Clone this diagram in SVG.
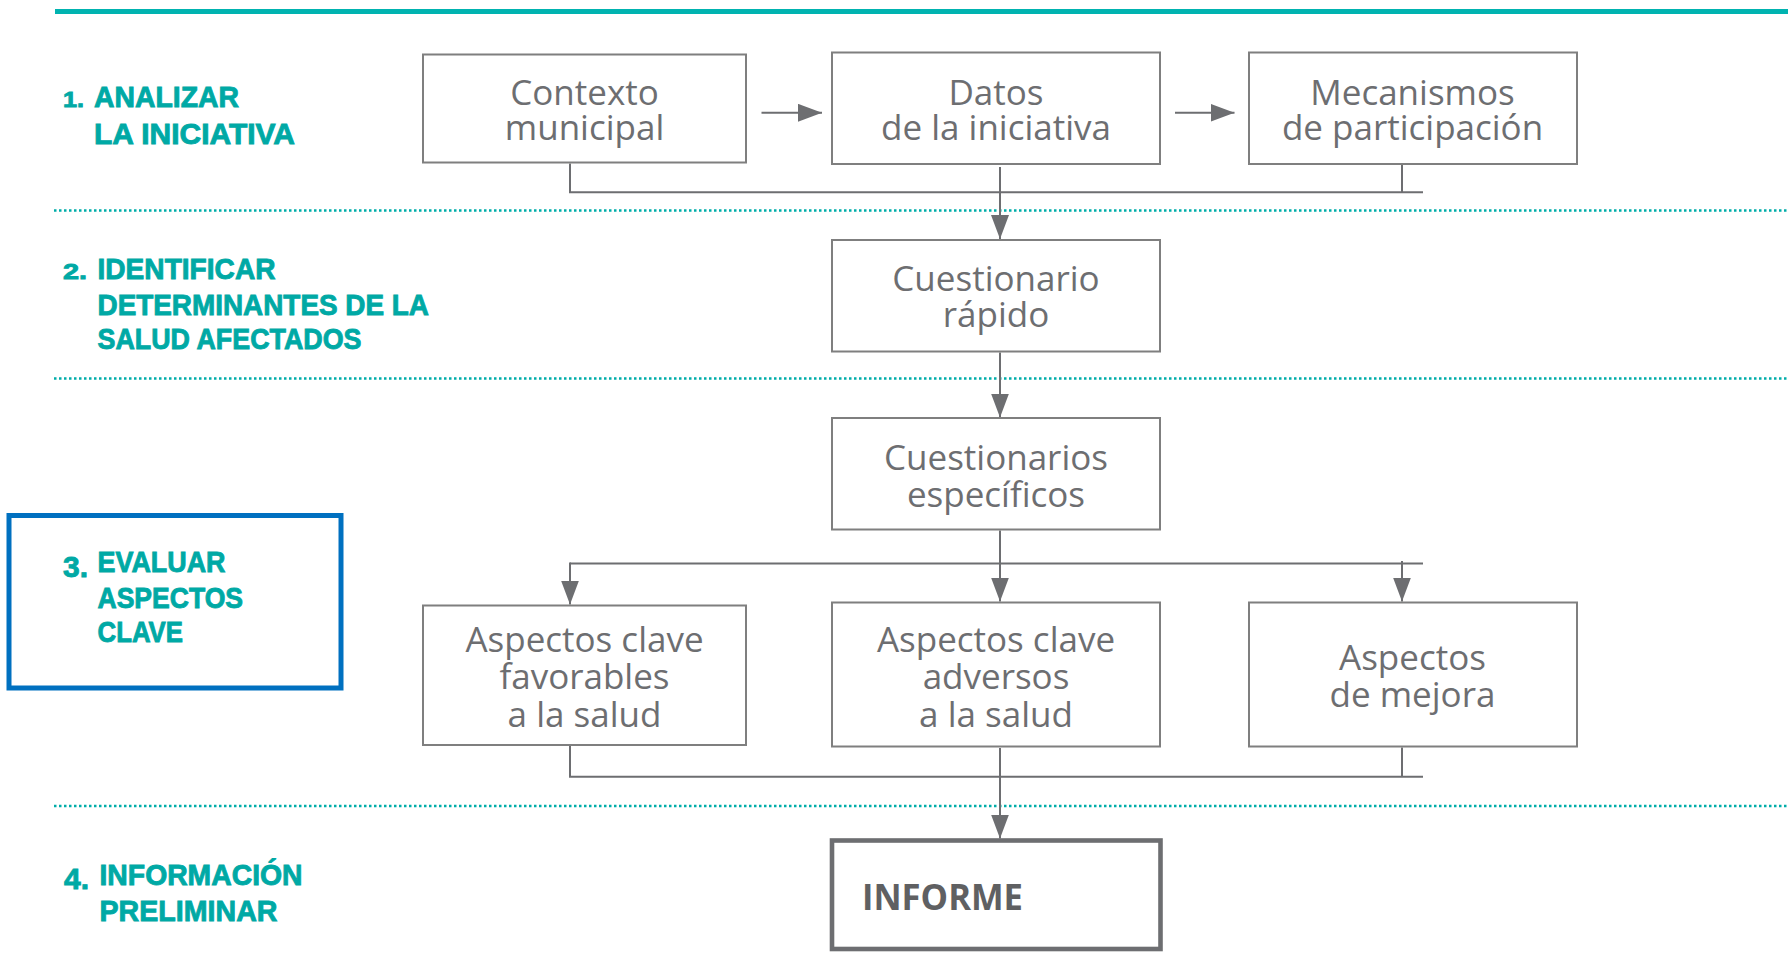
<svg xmlns="http://www.w3.org/2000/svg" width="1788" height="976" viewBox="0 0 1788 976">
<style>
.box{fill:#fff;stroke:#7f7f7f;stroke-width:2}
.t{font-family:"Open Sans","Liberation Sans",sans-serif;font-size:35px;fill:#6d6e71;text-anchor:middle}
.lbl{font-family:"Liberation Sans",Arial,sans-serif;font-weight:bold;font-size:30px;fill:#00A9A5;stroke:#00A9A5;stroke-width:0.9}
.num{font-family:"Liberation Sans",Arial,sans-serif;font-weight:bold;fill:#00A9A5;stroke:#00A9A5;stroke-width:0.9}
.conn{stroke:#6d6e71;stroke-width:2;fill:none}
.dot{stroke:#00ADA9;stroke-width:2.5;stroke-dasharray:2.5 2.5;fill:none}
</style>
<defs>
<marker id="ah" viewBox="0 0 24 18" refX="24" refY="9" markerWidth="24" markerHeight="18" markerUnits="userSpaceOnUse" orient="auto">
<path d="M0,0 L24,9 L0,18 Z" fill="#6d6e71"/>
</marker>
</defs>
<rect width="1788" height="976" fill="#fff"/>
<g id="guides">
<line x1="55" y1="11.5" x2="1788" y2="11.5" stroke="#00B3B0" stroke-width="5"/>
<line class="dot" x1="54" y1="210.5" x2="1788" y2="210.5"/>
<line class="dot" x1="54" y1="378.5" x2="1788" y2="378.5"/>
<line class="dot" x1="54" y1="806" x2="1788" y2="806"/>
</g>
<g id="labels">
<g id="step1">
<text class="num" x="63" y="107" font-size="22" textLength="21" lengthAdjust="spacingAndGlyphs">1.</text>
<text class="lbl" x="94" y="107" textLength="145" lengthAdjust="spacingAndGlyphs">ANALIZAR</text>
<text class="lbl" x="94" y="143.5" textLength="201" lengthAdjust="spacingAndGlyphs">LA INICIATIVA</text>
</g>
<g id="step2">
<text class="num" x="63" y="278.5" font-size="22" textLength="24" lengthAdjust="spacingAndGlyphs">2.</text>
<text class="lbl" x="97.5" y="278.5" textLength="178" lengthAdjust="spacingAndGlyphs">IDENTIFICAR</text>
<text class="lbl" x="97.5" y="315" textLength="331.5" lengthAdjust="spacingAndGlyphs">DETERMINANTES DE LA</text>
<text class="lbl" x="97.5" y="349" textLength="264" lengthAdjust="spacingAndGlyphs">SALUD AFECTADOS</text>
</g>
<g id="step3">
<rect x="9" y="515.5" width="332" height="172.5" fill="none" stroke="#0070C0" stroke-width="5"/>
<text class="num" x="63" y="577" font-size="30" textLength="25" lengthAdjust="spacingAndGlyphs">3.</text>
<text class="lbl" x="97.5" y="572" textLength="128" lengthAdjust="spacingAndGlyphs">EVALUAR</text>
<text class="lbl" x="97.5" y="607.5" textLength="145.5" lengthAdjust="spacingAndGlyphs">ASPECTOS</text>
<text class="lbl" x="97.5" y="641.5" textLength="85.5" lengthAdjust="spacingAndGlyphs">CLAVE</text>
</g>
<g id="step4">
<text class="num" x="64" y="889" font-size="30" textLength="25" lengthAdjust="spacingAndGlyphs">4.</text>
<text class="lbl" x="99.5" y="884.5" textLength="203" lengthAdjust="spacingAndGlyphs">INFORMACIÓN</text>
<text class="lbl" x="99.5" y="921" textLength="178" lengthAdjust="spacingAndGlyphs">PRELIMINAR</text>
</g>
</g>
<g id="connectors">
<line class="conn" x1="761.5" y1="112.8" x2="822" y2="112.8" marker-end="url(#ah)"/>
<line class="conn" x1="1175" y1="112.8" x2="1234.5" y2="112.8" marker-end="url(#ah)"/>
<polyline class="conn" points="570,163.5 570,192.3 1423,192.3"/>
<line class="conn" x1="1402" y1="165" x2="1402" y2="192.3"/>
<line class="conn" x1="1000" y1="167" x2="1000" y2="239" marker-end="url(#ah)"/>
<line class="conn" x1="1000" y1="352.5" x2="1000" y2="417.5" marker-end="url(#ah)"/>
<line class="conn" x1="1000" y1="530.5" x2="1000" y2="563.6"/>
<line class="conn" x1="570" y1="563.6" x2="1423" y2="563.6"/>
<line class="conn" x1="570" y1="562.6" x2="570" y2="604.5" marker-end="url(#ah)"/>
<line class="conn" x1="1000" y1="563.6" x2="1000" y2="601.5" marker-end="url(#ah)"/>
<line class="conn" x1="1402" y1="561" x2="1402" y2="601.5" marker-end="url(#ah)"/>
<line class="conn" x1="570" y1="746" x2="570" y2="776.8"/>
<line class="conn" x1="1402" y1="747.4" x2="1402" y2="776.8"/>
<line class="conn" x1="569" y1="776.8" x2="1423" y2="776.8"/>
<line class="conn" x1="1000" y1="748" x2="1000" y2="838.5" marker-end="url(#ah)"/>
</g>
<g id="contexto">
<rect class="box" x="423" y="54.5" width="323" height="108"/>
<text class="t"><tspan x="584.5" y="105">Contexto</tspan><tspan x="584.5" y="140">municipal</tspan></text>
</g>
<g id="datos">
<rect class="box" x="832" y="52.5" width="328" height="111.5"/>
<text class="t"><tspan x="996" y="105">Datos</tspan><tspan x="996" y="140">de la iniciativa</tspan></text>
</g>
<g id="mecanismos">
<rect class="box" x="1249" y="52.5" width="328" height="111.5"/>
<text class="t"><tspan x="1412.5" y="105">Mecanismos</tspan><tspan x="1412.5" y="140">de participación</tspan></text>
</g>
<g id="rapido">
<rect class="box" x="832" y="240" width="328" height="111.5"/>
<text class="t"><tspan x="996" y="290.5">Cuestionario</tspan><tspan x="996" y="327">rápido</tspan></text>
</g>
<g id="especificos">
<rect class="box" x="832" y="418" width="328" height="111.5"/>
<text class="t"><tspan x="996" y="470">Cuestionarios</tspan><tspan x="996" y="506.5">específicos</tspan></text>
</g>
<g id="favorables">
<rect class="box" x="423" y="605.5" width="323" height="139.5"/>
<text class="t"><tspan x="584.5" y="652">Aspectos clave</tspan><tspan x="584.5" y="689">favorables</tspan><tspan x="584.5" y="726.5">a la salud</tspan></text>
</g>
<g id="adversos">
<rect class="box" x="832" y="602.5" width="328" height="144"/>
<text class="t"><tspan x="996" y="652">Aspectos clave</tspan><tspan x="996" y="689">adversos</tspan><tspan x="996" y="726.5">a la salud</tspan></text>
</g>
<g id="mejora">
<rect class="box" x="1249" y="602.5" width="328" height="144"/>
<text class="t"><tspan x="1412.5" y="670">Aspectos</tspan><tspan x="1412.5" y="707">de mejora</tspan></text>
</g>
<g id="informe">
<rect x="832" y="840.5" width="328.5" height="108.5" fill="#fff" stroke="#6d6e71" stroke-width="4.6"/>
<text x="862" y="910.3" font-family="'Open Sans','Liberation Sans',sans-serif" font-weight="bold" font-size="35" fill="#5f6062" textLength="161" lengthAdjust="spacingAndGlyphs">INFORME</text>
</g>
</svg>
